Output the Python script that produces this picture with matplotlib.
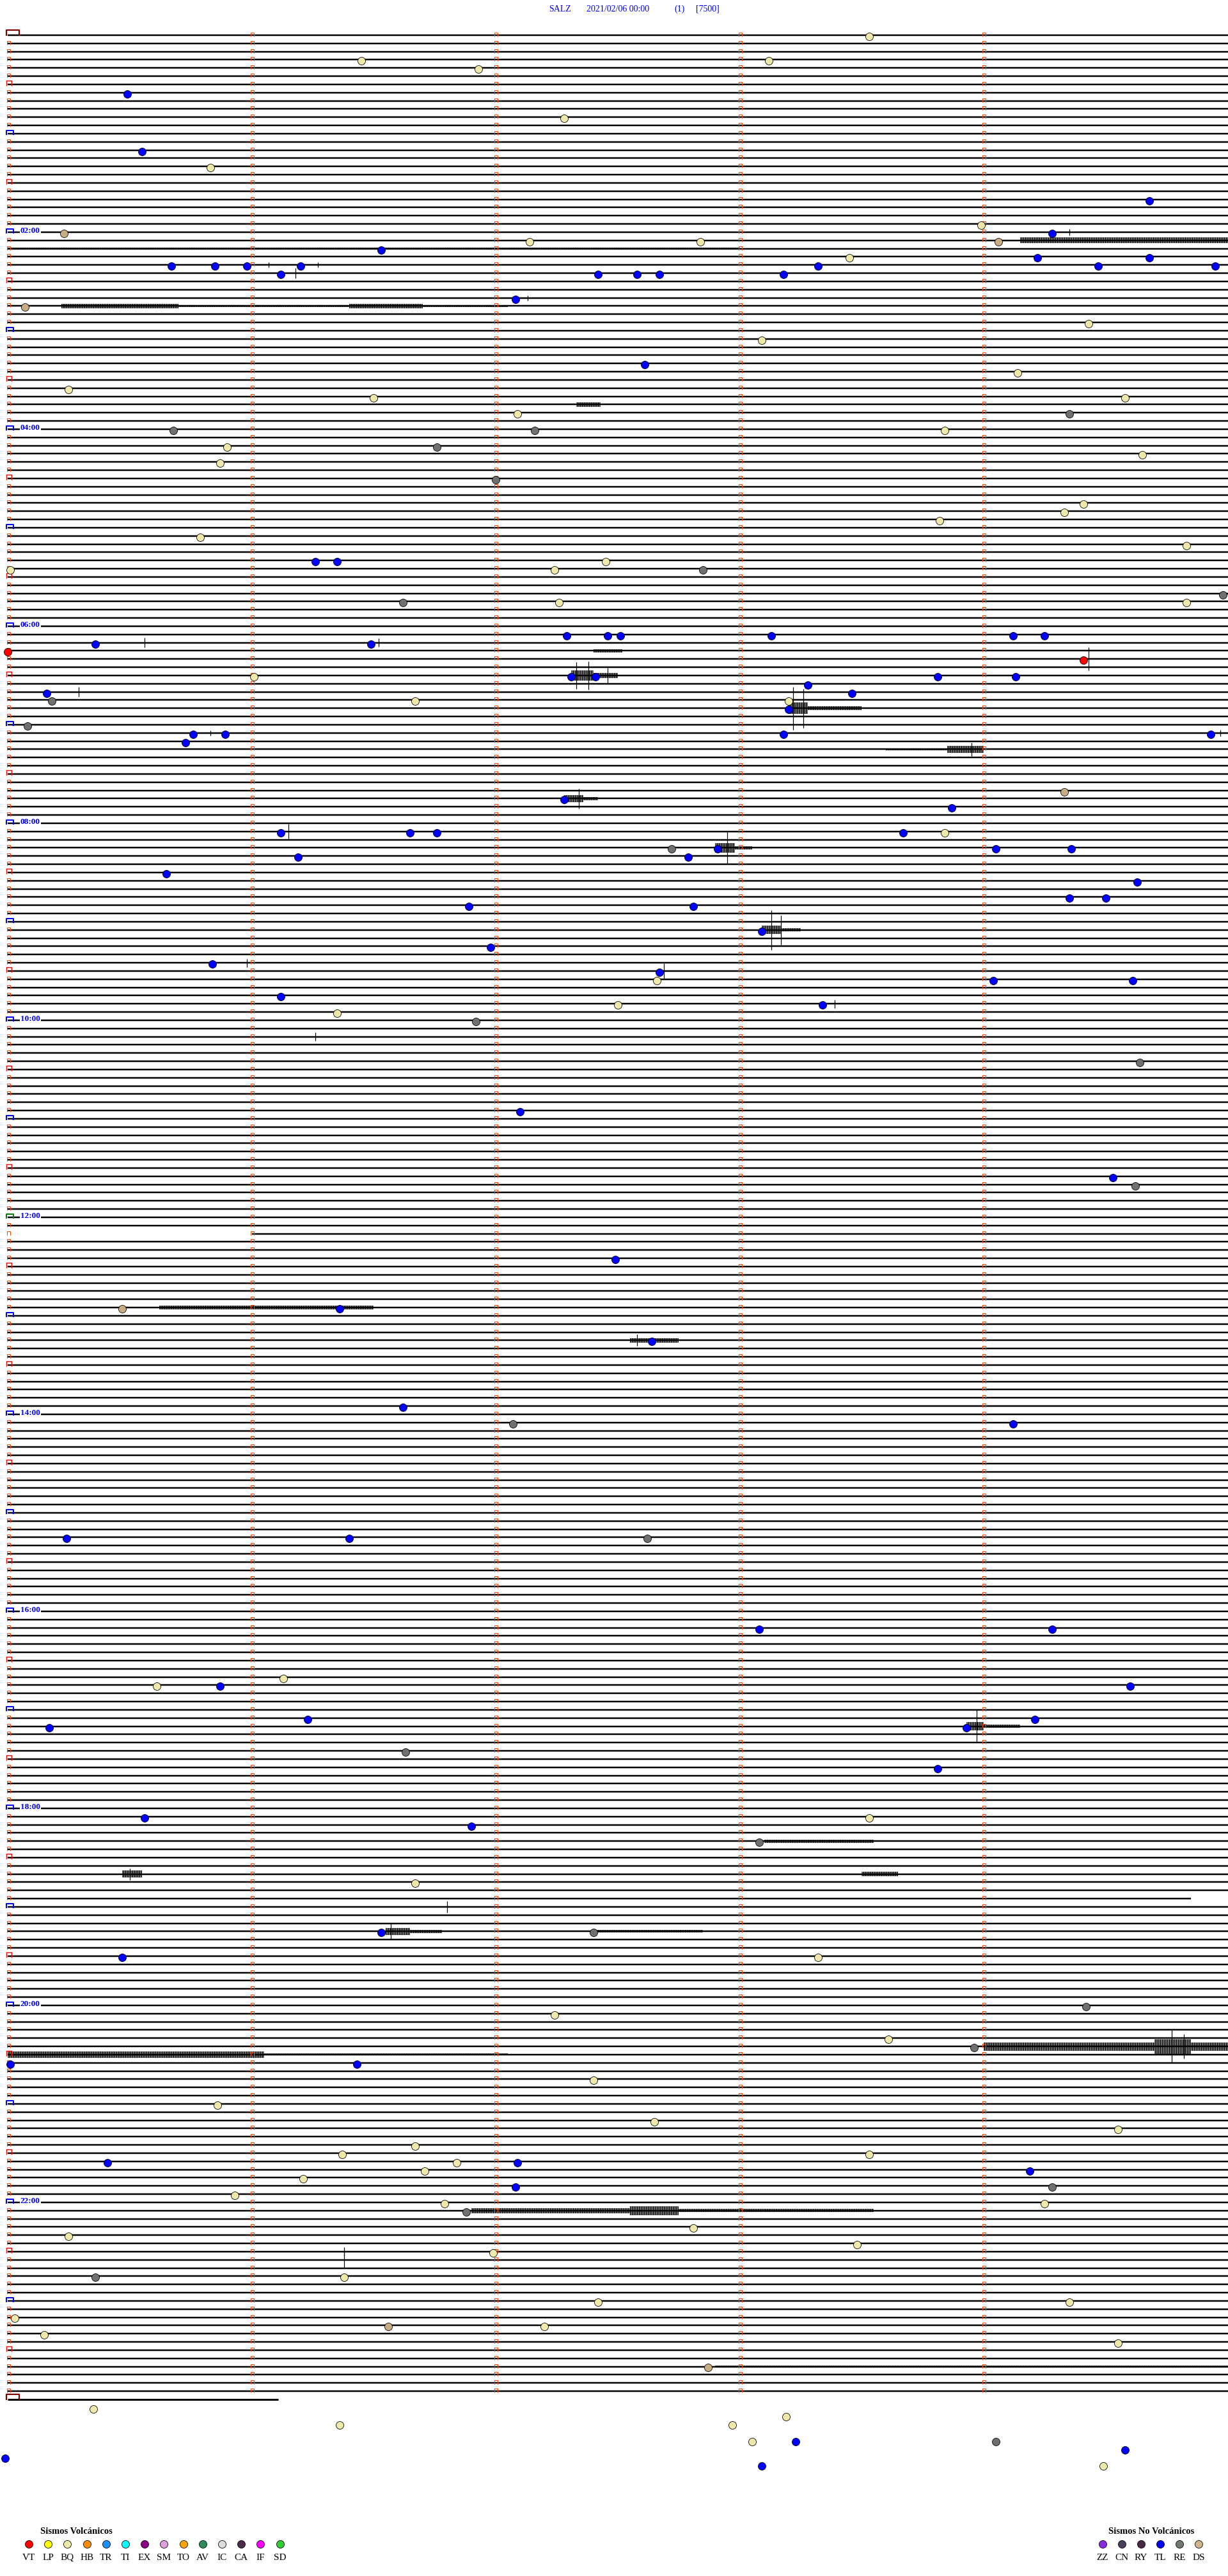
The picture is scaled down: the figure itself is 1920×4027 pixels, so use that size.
import matplotlib
matplotlib.use('Agg')
import matplotlib.pyplot as plt
from matplotlib.path import Path
from matplotlib.patches import Rectangle

# ---------------------------------------------------------------- data
station = 'SALZ'
start_label = '2021/02/06 00:00'
run_label = '(1)'
gain_label = '[7500]'

n_lines = 288            # 5 minutes per line, 24 h
minutes_per_line = 5
last_line_end = 1.11     # partial line of the next day (minutes)
gap_start = {146: 1.0}   # line -> minute where data starts
gap_end = {227: 4.85}    # line -> minute where data stops

hour_labels = ['02:00', '04:00', '06:00', '08:00', '10:00', '12:00',
               '14:00', '16:00', '18:00', '20:00', '22:00']

# classified events: (line, minute inside the line)
tl_events = [(7, 0.49), (14, 0.55), (20, 4.68), (24, 4.28), (26, 1.53), (27, 4.22), (27, 4.68),
             (28, 0.67), (28, 0.85), (28, 0.98), (28, 1.20), (28, 3.32), (28, 4.47), (28, 4.95),
             (29, 1.12), (29, 2.42), (29, 2.58), (29, 2.67), (29, 3.18), (32, 2.08), (40, 2.61),
             (64, 1.26), (64, 1.35), (73, 2.29), (73, 2.46), (73, 2.51), (73, 3.13), (73, 4.12),
             (73, 4.25), (74, 0.36), (74, 1.49), (78, 2.31), (78, 2.41), (78, 3.81), (78, 4.13),
             (79, 3.28), (80, 0.16), (80, 3.46), (82, 3.20), (85, 0.76), (85, 0.89), (85, 3.18),
             (85, 4.93), (86, 0.73), (93, 2.28), (94, 3.87), (97, 1.12), (97, 1.65), (97, 1.76),
             (97, 3.67), (99, 2.91), (99, 4.05), (99, 4.36), (100, 1.19), (100, 2.79), (102, 0.65),
             (103, 4.63), (105, 4.35), (105, 4.50), (106, 1.89), (106, 2.81), (109, 3.09),
             (111, 1.98), (113, 0.84), (114, 2.67), (115, 4.04), (115, 4.61), (117, 1.12),
             (118, 3.34), (131, 2.10), (139, 4.53), (149, 2.49), (155, 1.36), (159, 2.64),
             (167, 1.62), (169, 4.12), (183, 0.24), (183, 1.40), (194, 3.08), (194, 4.28),
             (201, 0.87), (201, 4.60), (205, 1.23), (205, 4.21), (206, 0.17), (206, 3.93),
             (211, 3.81), (217, 0.56), (218, 1.90), (231, 1.53), (234, 0.47), (247, 0.01),
             (247, 1.43), (259, 0.41), (259, 2.09), (260, 4.19), (262, 2.08), (293, 3.23),
             (294, 4.58), (295, -0.01), (296, 3.09)]
bq_events = [(0, 3.53), (3, 1.45), (3, 3.12), (4, 1.93), (10, 2.28), (16, 0.83), (23, 3.99),
             (25, 2.14), (25, 2.84), (27, 3.45), (35, 4.43), (37, 3.09), (41, 4.14), (43, 0.25),
             (44, 1.50), (44, 4.58), (46, 2.09), (48, 3.84), (50, 0.90), (51, 4.65), (52, 0.87),
             (57, 4.41), (58, 4.33), (59, 3.82), (61, 0.79), (62, 4.83), (64, 2.45), (65, 0.01),
             (65, 2.24), (69, 2.26), (69, 4.83), (78, 1.01), (81, 1.67), (81, 3.20), (97, 3.84),
             (115, 2.66), (118, 2.50), (119, 1.35), (200, 1.13), (201, 0.61), (217, 3.53),
             (225, 1.67), (234, 3.32), (241, 2.24), (244, 3.61), (249, 2.40), (252, 0.86),
             (254, 2.65), (255, 4.55), (257, 1.67), (258, 1.37), (258, 3.53), (259, 1.84),
             (260, 1.71), (261, 1.21), (263, 0.93), (264, 1.79), (264, 4.25), (267, 2.81),
             (268, 0.25), (269, 3.48), (270, 1.99), (273, 1.38), (276, 2.42), (276, 4.35),
             (278, 0.03), (279, 2.20), (280, 0.15), (281, 4.55), (289, 0.35), (290, 3.19),
             (291, 1.36), (291, 2.97), (293, 3.05), (296, 4.49)]
re_events = [(46, 4.35), (48, 0.68), (48, 2.16), (50, 1.76), (54, 2.00), (65, 2.85), (68, 4.98),
             (69, 1.62), (81, 0.18), (84, 0.08), (99, 2.72), (120, 1.92), (125, 4.64), (140, 4.62),
             (169, 2.07), (183, 2.62), (209, 1.63), (220, 3.08), (231, 2.40), (240, 4.42),
             (245, 3.96), (262, 4.28), (265, 1.88), (273, 0.36), (293, 4.05)]
ds_events = [(24, 0.23), (25, 4.06), (33, 0.07), (92, 4.33), (155, 0.47), (279, 1.56), (284, 2.87)]
vt_events = [(75, 0.00), (76, 4.41)]

# seismic signals
# spikes: (line, minute, half amplitude in line spacings)
spikes = [(24, 4.35, 0.4), (28, 1.07, 0.3), (28, 1.27, 0.3), (29, 1.18, 0.6), (32, 2.13, 0.3),
          (74, 0.56, 0.6), (74, 1.52, 0.5), (76, 4.43, 1.4), (78, 2.33, 1.6), (78, 2.38, 1.7),
          (78, 2.46, 0.9), (80, 0.29, 0.6), (82, 3.22, 2.6), (82, 3.26, 2.4), (85, 0.83, 0.3),
          (85, 4.97, 0.4), (87, 3.95, 0.8), (93, 2.34, 1.2), (97, 1.15, 0.9), (99, 2.95, 2.0),
          (109, 3.13, 2.4), (109, 3.17, 1.8), (113, 0.98, 0.5), (114, 2.69, 0.9), (118, 3.39, 0.5),
          (122, 1.26, 0.5), (159, 2.58, 0.7), (206, 3.97, 2.0), (224, 0.50, 0.7), (228, 1.80, 0.7),
          (231, 1.57, 1.0), (245, 4.77, 2.0), (245, 4.82, 1.5), (270, 1.38, 0.5), (271, 1.38, 1.0)]
# oscillation bands: (line, start minute, end minute, half amplitude)
bands = [(24, 0.30, 1.45, 0.10), (25, 4.15, 5.00, 0.35), (26, 0.00, 3.00, 0.12),
         (33, 0.22, 0.70, 0.30), (33, 0.70, 1.40, 0.15), (33, 1.40, 1.70, 0.28),
         (33, 1.70, 2.05, 0.12), (45, 2.33, 2.43, 0.25), (75, 2.40, 2.52, 0.18),
         (78, 2.31, 2.40, 0.60), (78, 2.40, 2.50, 0.30), (82, 3.20, 3.28, 0.70),
         (82, 3.28, 3.50, 0.22), (87, 3.60, 3.85, 0.12), (87, 3.85, 4.00, 0.40),
         (93, 2.28, 2.36, 0.40), (93, 2.36, 2.42, 0.20), (99, 2.90, 2.98, 0.60),
         (99, 2.98, 3.05, 0.20), (109, 3.09, 3.17, 0.50), (109, 3.17, 3.25, 0.20),
         (155, 0.62, 1.50, 0.25), (159, 2.55, 2.75, 0.25), (206, 3.93, 4.00, 0.50),
         (206, 4.00, 4.15, 0.20), (220, 3.10, 3.55, 0.18), (224, 0.47, 0.55, 0.45),
         (224, 3.50, 3.65, 0.25), (231, 1.55, 1.65, 0.40), (231, 1.65, 1.78, 0.20),
         (231, 2.40, 2.85, 0.15), (245, 4.00, 4.70, 0.50), (245, 4.70, 4.85, 0.90),
         (245, 4.85, 5.00, 0.50), (246, 0.00, 1.05, 0.40), (246, 1.05, 2.05, 0.12),
         (265, 1.90, 2.55, 0.30), (265, 2.55, 2.75, 0.55), (265, 2.75, 3.55, 0.20),
         (284, 2.90, 5.00, 0.15)]

legend_volc = ['VT', 'LP', 'BQ', 'HB', 'TR', 'TI', 'EX', 'SM', 'TO', 'AV', 'IC', 'CA', 'IF', 'SD']
legend_volc_colors = ['#ff0000', '#ffff00', '#eee8aa', '#ff8c00', '#1e90ff', '#00ffff', '#8b008b',
                      '#dda0dd', '#ffa500', '#2e8b57', '#dcdcdc', '#4b2d4b', '#ff00ff', '#32cd32']
legend_novolc = ['ZZ', 'CN', 'RY', 'TL', 'RE', 'DS']
legend_novolc_colors = ['#8a2be2', '#483d5b', '#4b2846', '#0000ff', '#6e7a6e', '#d2b48c']

# ---------------------------------------------------------------- geometry (pixels)
W, H = 1920, 4027
X0, DX = 12.0, 381.5     # first sample, pixels per minute
Y0, DY = 55.0, 12.833    # first line, pixels per line
PT = 0.72                # points per pixel at dpi 100

SERIF = ['Liberation Serif', 'DejaVu Serif']

plt.rcParams['hatch.linewidth'] = 0.7

fig = plt.figure(figsize=(W / 100, H / 100), dpi=100)
fig.patch.set_facecolor('white')
ax = fig.add_axes([0, 0, 1, 1])
ax.set_xlim((0 - X0) / DX, (W - X0) / DX)
ax.set_ylim((H - Y0) / DY, (0 - Y0) / DY)
ax.axis('off')


def bracket(w, up, down):
    """Open box marker (legs down), sizes in pixels."""
    verts = [(-w / 2, -down), (-w / 2, up), (w / 2, up), (w / 2, -down)]
    size = 2 * max(w / 2, up, down) * PT
    return Path(verts), size


# traces
lines = list(range(n_lines))
starts = [gap_start.get(i, 0.0) for i in lines]
ends = [gap_end.get(i, minutes_per_line) for i in lines]
ax.hlines(lines, starts, ends, color='black', lw=2.5 * PT, zorder=2)
ax.hlines([n_lines], [0.0], [last_line_end], color='black', lw=3.0 * PT, zorder=2)

for ln, m0, m1, amp in bands:
    ax.add_patch(Rectangle((m0, ln - amp), m1 - m0, 2 * amp, facecolor='none',
                           edgecolor='black', hatch='|' * 12, lw=0, zorder=2))
ax.vlines([s[1] for s in spikes], [s[0] - s[2] for s in spikes], [s[0] + s[2] for s in spikes],
          color='black', lw=1.2 * PT, zorder=2)

# minute marks on every line
p, s = bracket(5, 4, 2)
for m in range(1, minutes_per_line):
    ax.plot([m] * n_lines, lines, ls='none', marker=p, ms=s, mfc='none',
            mec='#ff4500', mew=1.0 * PT, zorder=3)

# line start marks
hour_lines = [i for i in lines if i % 12 == 0]
half_lines = [i for i in lines if i % 12 == 6]
other_lines = [i for i in lines if i % 6 != 0]
p, s = bracket(5, 4, 2)
ax.plot([1 / DX] * len(other_lines), other_lines, ls='none', marker=p, ms=s, mfc='none',
        mec='#ff4500', mew=1.0 * PT, zorder=3)
p, s = bracket(8, 6, 2)
ax.plot([2 / DX] * len(half_lines), half_lines, ls='none', marker=p, ms=s, mfc='none',
        mec='#ff0000', mew=1.4 * PT, zorder=3)
p, s = bracket(11, 5, 2)
blue_lines = [i for i in hour_lines if i not in (0, 144)]
ax.plot([3 / DX] * len(blue_lines), blue_lines, ls='none', marker=p, ms=s, mfc='none',
        mec='#0000ff', mew=2.0 * PT, zorder=3)
ax.plot([3 / DX], [144], ls='none', marker=p, ms=s, mfc='none', mec='#008000', mew=2.0 * PT,
        zorder=3)
p, s = bracket(20, 8, 1)
ax.plot([8 / DX, 8 / DX], [0, n_lines], ls='none', marker=p, ms=s, mfc='none',
        mec='#800000', mew=2.2 * PT, zorder=3)

for k, lab in enumerate(hour_labels):
    ln = 24 * (k + 1)
    ax.text(20 / DX, ln + 1 / DY, lab, color='#0000ff', fontsize=9.5, fontweight='bold',
            family=SERIF, ha='left', va='baseline', zorder=4,
            bbox=dict(facecolor='white', edgecolor='none', pad=0.5))

# event markers
marker_sets = [(tl_events, '#0000ff'), (bq_events, '#eee8aa'), (re_events, '#707070'),
               (ds_events, '#c8ad84'), (vt_events, '#ff0000')]
for events, col in marker_sets:
    ax.plot([e[1] for e in events], [e[0] + 0.15 for e in events], ls='none', marker='o',
            ms=12 * PT, mfc=col, mec='black', mew=0.8 * PT, zorder=5)

# ---------------------------------------------------------------- header and legends (pixels)
ov = fig.add_axes([0, 0, 1, 1])
ov.set_xlim(0, W)
ov.set_ylim(H, 0)
ov.axis('off')
ov.patch.set_alpha(0)

for x, t in [(858, station), (917, start_label), (1054, run_label), (1088, gain_label)]:
    ov.text(x, 14, t, color='#0000ff', fontsize=10, family=SERIF, ha='left', va='center')

ov.text(63, 3957, 'Sismos Volcánicos', fontsize=10.5, fontweight='bold', family=SERIF,
        ha='left', va='center')
for k, (lab, col) in enumerate(zip(legend_volc, legend_volc_colors)):
    x = 45 + 30.2 * k
    ov.plot([x], [3977], ls='none', marker='o', ms=12 * PT, mfc=col, mec='black', mew=0.8 * PT)
    ov.text(x, 3998, lab, fontsize=11, family=SERIF, ha='center', va='center')

ov.text(1733, 3957, 'Sismos No Volcánicos', fontsize=10.5, fontweight='bold', family=SERIF,
        ha='left', va='center')
for k, (lab, col) in enumerate(zip(legend_novolc, legend_novolc_colors)):
    x = 1724 + 30 * k
    ov.plot([x], [3977], ls='none', marker='o', ms=12 * PT, mfc=col, mec='black', mew=0.8 * PT)
    ov.text(x, 3998, lab, fontsize=11, family=SERIF, ha='center', va='center')

fig.savefig('out.png', dpi=100, facecolor='white')
